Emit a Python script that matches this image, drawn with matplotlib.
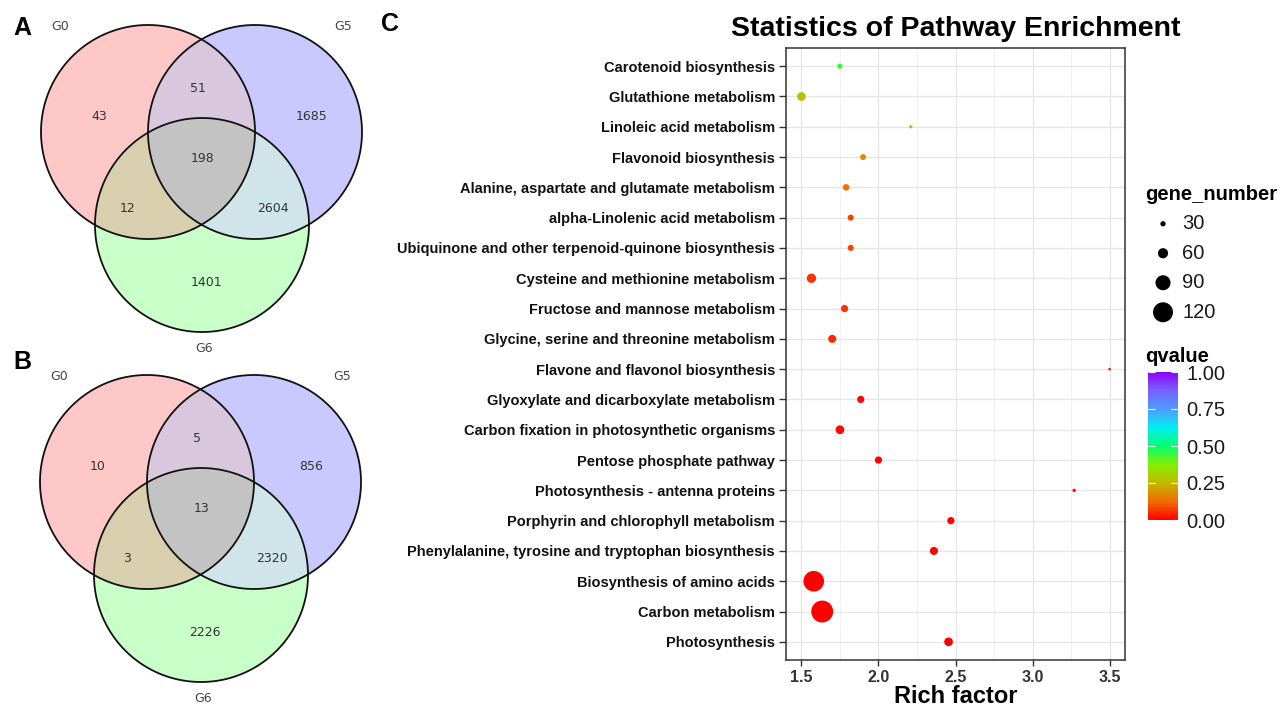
import numpy as np
import matplotlib
matplotlib.use("Agg")
import matplotlib.pyplot as plt
from matplotlib.colors import LinearSegmentedColormap, Normalize
from matplotlib.cm import ScalarMappable
from matplotlib.patches import Polygon

# ---- data ----
set_names = ["G0", "G5", "G6"]
# region order: G0 only, G0&G5, G5 only, all three, G0&G6, G5&G6, G6 only
venn_a = [43, 51, 1685, 198, 12, 2604, 1401]
venn_b = [10, 5, 856, 13, 3, 2320, 2226]

pathways = [
    "Carotenoid biosynthesis",
    "Glutathione metabolism",
    "Linoleic acid metabolism",
    "Flavonoid biosynthesis",
    "Alanine, aspartate and glutamate metabolism",
    "alpha-Linolenic acid metabolism",
    "Ubiquinone and other terpenoid-quinone biosynthesis",
    "Cysteine and methionine metabolism",
    "Fructose and mannose metabolism",
    "Glycine, serine and threonine metabolism",
    "Flavone and flavonol biosynthesis",
    "Glyoxylate and dicarboxylate metabolism",
    "Carbon fixation in photosynthetic organisms",
    "Pentose phosphate pathway",
    "Photosynthesis - antenna proteins",
    "Porphyrin and chlorophyll metabolism",
    "Phenylalanine, tyrosine and tryptophan biosynthesis",
    "Biosynthesis of amino acids",
    "Carbon metabolism",
    "Photosynthesis",
]
rich_factor = [1.75, 1.50, 2.21, 1.90, 1.79, 1.82, 1.82, 1.565, 1.78, 1.70,
               3.50, 1.885, 1.75, 2.00, 3.27, 2.47, 2.36, 1.58, 1.635, 2.455]
gene_number = [30, 51, 18, 34, 38, 35, 35, 55, 42, 47,
               14, 42, 51, 42, 18, 42, 47, 124, 132, 51]
qvalue = [0.45, 0.27, 0.27, 0.18, 0.13, 0.08, 0.08, 0.06, 0.06, 0.05,
          0.03, 0.01, 0.01, 0.0, 0.01, 0.0, 0.0, 0.0, 0.0, 0.0]
size_breaks = [30, 60, 90, 120]
q_ticks = [0.0, 0.25, 0.5, 0.75, 1.0]

W, H, DPI = 1282, 706, 100
fig = plt.figure(figsize=(W / DPI, H / DPI), dpi=DPI)
plt.rcParams["font.family"] = ["Liberation Sans", "DejaVu Sans"]


def circle_poly(cx, cy, r, n=400):
    t = np.linspace(0, 2 * np.pi, n, endpoint=False)
    return np.column_stack([cx + r * np.cos(t), cy + r * np.sin(t)])


def clip_convex(subject, clipper):
    # Sutherland-Hodgman, clipper counter-clockwise
    out = list(subject)
    n = len(clipper)
    for i in range(n):
        a, b = clipper[i], clipper[(i + 1) % n]
        inp, out = out, []
        if not inp:
            break

        def side(p):
            return (b[0] - a[0]) * (p[1] - a[1]) - (b[1] - a[1]) * (p[0] - a[0])

        prev = inp[-1]
        for cur in inp:
            sc, sp = side(cur), side(prev)
            if sc >= 0:
                if sp < 0:
                    out.append(prev + sp / (sp - sc) * (cur - prev))
                out.append(cur)
            elif sp >= 0:
                out.append(prev + sp / (sp - sc) * (cur - prev))
            prev = cur
    return np.array(out)


# ---- venn panels (pixel coords) ----
vax = fig.add_axes([0, 0, 1, 1])
vax.set_xlim(0, W)
vax.set_ylim(H, 0)
vax.axis("off")

fill_single = ["#FFC8C8", "#C9C9FF", "#C9FFC9"]
fill_pair = {(0, 1): "#D9C8DD", (0, 2): "#D8CFAF", (1, 2): "#D0E5E9"}
fill_all = "#C3C3C3"
R = 107
# offsets of region labels from the G0 centre, same order as counts
lab_off = [(-49, -16), (50, -44), (164, -16), (55, 27), (-20, 77), (125, 77), (58, 150)]


def draw_venn(c0, counts):
    cs = [c0, (c0[0] + 107, c0[1]), (c0[0] + 54, c0[1] + 93)]
    polys = [circle_poly(x, y, R) for x, y in cs]
    for p, col in zip(polys, fill_single):
        vax.add_patch(Polygon(p, closed=True, fc=col, ec="none"))
    for (i, j), col in fill_pair.items():
        vax.add_patch(Polygon(clip_convex(polys[i], polys[j]), closed=True, fc=col, ec="none"))
    tri = clip_convex(clip_convex(polys[0], polys[1]), polys[2])
    vax.add_patch(Polygon(tri, closed=True, fc=fill_all, ec="none"))
    for p in polys:
        vax.add_patch(Polygon(p, closed=True, fc="none", ec="#111111", lw=1.3))
    for v, (dx, dy) in zip(counts, lab_off):
        vax.text(c0[0] + dx, c0[1] + dy, str(v), ha="center", va="center",
                 fontsize=9, color="#333333", family="DejaVu Sans")
    vax.text(c0[0] - 88, c0[1] - 105, set_names[0], ha="center", va="center",
             fontsize=9, color="#444444", family="DejaVu Sans")
    vax.text(c0[0] + 195, c0[1] - 105, set_names[1], ha="center", va="center",
             fontsize=9, color="#444444", family="DejaVu Sans")
    vax.text(cs[2][0] + 2, cs[2][1] + R + 16, set_names[2], ha="center", va="center",
             fontsize=9, color="#444444", family="DejaVu Sans")


draw_venn((148, 132), venn_a)
draw_venn((147, 482), venn_b)

for lab, x, y in [("A", 22, 28), ("B", 22, 362), ("C", 390, 24)]:
    vax.text(x, y, lab, ha="center", va="center", fontsize=18, fontweight="bold", color="black")

# ---- enrichment dot plot ----
cmap = LinearSegmentedColormap.from_list("qv", [
    (0.0, "#FF0000"), (0.12, "#F06A00"), (0.25, "#C2B800"), (0.37, "#86EE00"),
    (0.5, "#00FF70"), (0.62, "#00F0F0"), (0.75, "#4C9CFF"), (0.88, "#7860FF"),
    (1.0, "#8C00FF")])
norm = Normalize(0, 1)


def dot_size(v):
    d_px = 0.163 * np.asarray(v, dtype=float) + 0.4
    return (d_px * 72.0 / DPI) ** 2


ax = fig.add_axes([786 / W, 1 - 660 / H, 339 / W, 612 / H])
ypos = np.arange(len(pathways))[::-1]
ax.scatter(rich_factor, ypos, s=dot_size(gene_number), c=qvalue, cmap=cmap, norm=norm,
           edgecolors="none", zorder=3)
ax.set_xlim(1.4, 3.6)
ax.set_ylim(-0.6, len(pathways) - 0.4)
ax.set_xticks([1.5, 2.0, 2.5, 3.0, 3.5])
ax.set_xticks([1.75, 2.25, 2.75, 3.25], minor=True)
ax.set_yticks(ypos)
ax.set_yticklabels(pathways, fontsize=10.5, fontweight="bold", color="#111111")
for t in ax.get_xticklabels():
    t.set_fontweight("bold")
ax.tick_params(axis="x", labelsize=11.5, colors="#333333", length=4, width=1, pad=3)
ax.tick_params(axis="y", colors="#333333", length=5, width=1, pad=3)
for t in ax.get_yticklabels():
    t.set_color("#111111")
ax.tick_params(which="minor", length=0)
ax.grid(True, which="major", color="#E6E6E6", lw=0.9, zorder=0)
ax.grid(True, which="minor", axis="x", color="#F0F0F0", lw=0.6, zorder=0)
for sp in ax.spines.values():
    sp.set_color("#333333")
    sp.set_linewidth(1.1)
ax.set_xlabel("Rich factor", fontsize=17, fontweight="bold", labelpad=0)
ax.set_title("Statistics of Pathway Enrichment", fontsize=20.5, fontweight="bold", pad=9)

# size legend
fig.text(1145 / W, 1 - 195 / H, "gene_number", fontsize=14.5, fontweight="bold", va="center")
lax = fig.add_axes([1140 / W, 1 - 327 / H, 110 / W, 118 / H])
lax.set_xlim(0, 110)
lax.set_ylim(len(size_breaks) - 0.5, -0.5)
lax.axis("off")
lax.scatter([23] * len(size_breaks), range(len(size_breaks)), s=dot_size(size_breaks),
            c="black", edgecolors="none")
for i, v in enumerate(size_breaks):
    lax.text(42, i, str(v), fontsize=14.5, va="center", color="#1a1a1a")

# colour bar
fig.text(1145 / W, 1 - 357 / H, "qvalue", fontsize=14.5, fontweight="bold", va="center")
cax = fig.add_axes([1148 / W, 1 - 520 / H, 30 / W, 148 / H])
cb = fig.colorbar(ScalarMappable(norm=norm, cmap=cmap), cax=cax, ticks=q_ticks)
cb.outline.set_visible(False)
cb.ax.set_yticklabels(["%.2f" % q for q in q_ticks], fontsize=14.5, color="#1a1a1a")
cax.tick_params(axis="y", direction="in", color="white", length=5, width=0.8,
                left=True, right=True, pad=6)

fig.savefig("out.png", dpi=DPI)
